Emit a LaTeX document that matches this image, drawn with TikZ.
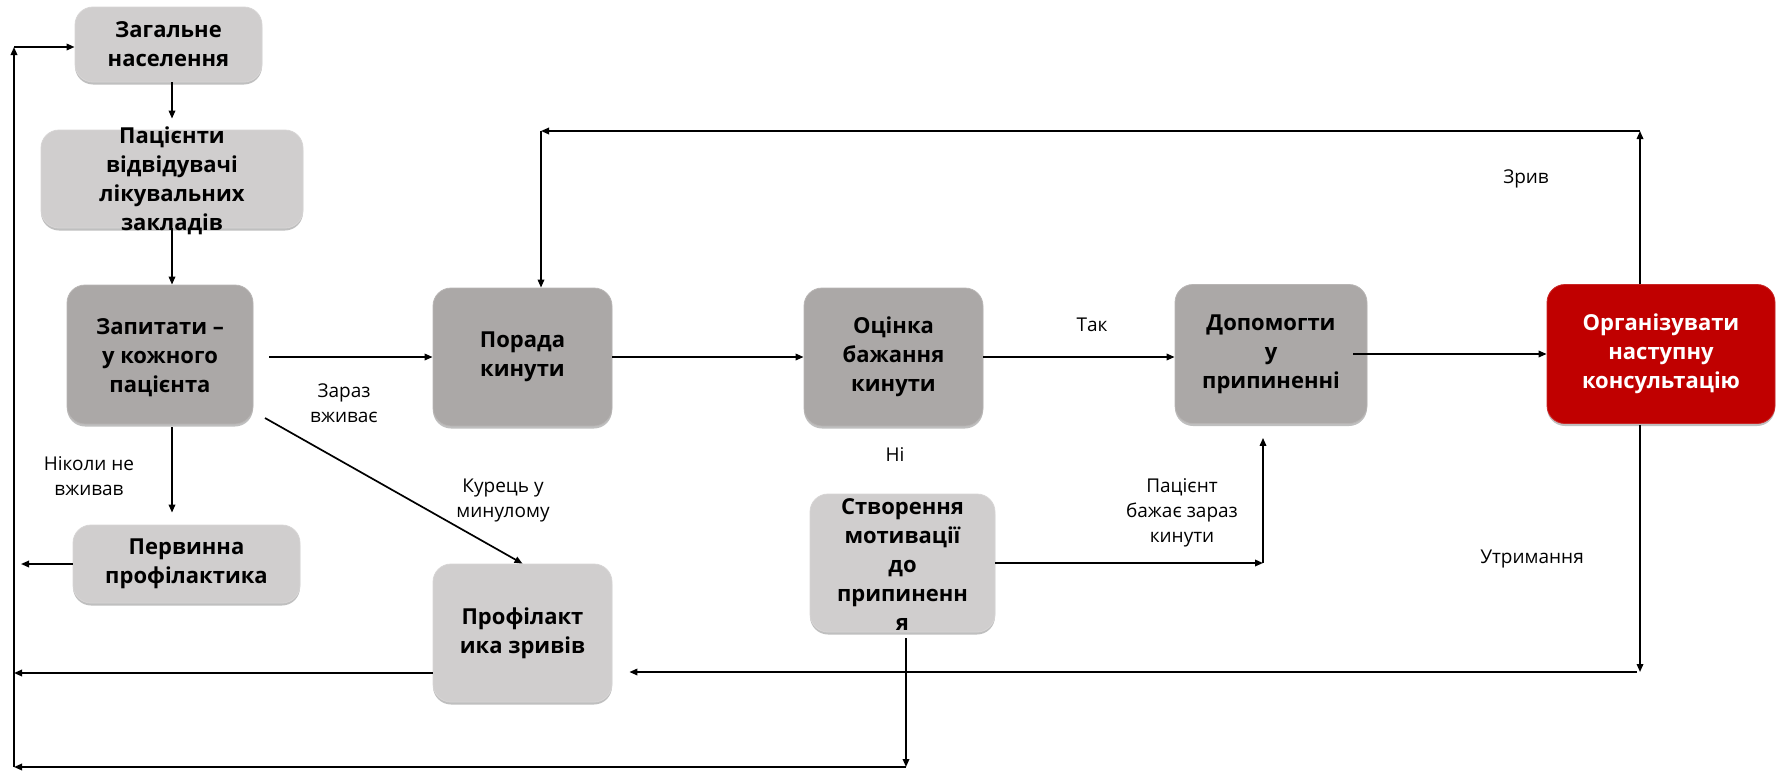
\documentclass[tikz,border=0pt]{standalone}
\usepackage{fontspec}
\setmainfont{Open Sans}
\usetikzlibrary{arrows.meta,shadows,calc}

\definecolor{boxlight}{RGB}{208,206,206}
\definecolor{boxdark}{RGB}{171,168,167}
\definecolor{boxred}{RGB}{192,0,0}

\tikzset{
  card/.style={rounded corners=18pt, draw=#1!85!white, line width=0.8pt, fill=#1,
    inner sep=0pt,
    drop shadow={shadow xshift=0pt, shadow yshift=-2.5pt, opacity=0.25, fill=black}},
  cardtext/.style={font=\fontsize{22}{29}\selectfont\bfseries, align=center, inner sep=0pt},
  note/.style={font=\fontsize{19}{25}\selectfont, align=center, inner sep=0pt},
  arr/.style={-{Triangle[length=8pt,width=6.5pt]}, line width=1.7pt, black},
}

\begin{document}
\begin{tikzpicture}[x=1pt, y=-1pt]
\useasboundingbox (0,0) rectangle (1784,771);

% boxes
\node[card=boxlight, minimum width=187pt, minimum height=75pt]  (zag)  at (168.5,44.5) {};
\node[card=boxlight, minimum width=262pt, minimum height=98pt]  (pac)  at (172,179) {};
\node[card=boxdark,  minimum width=186pt, minimum height=139pt] (zap)  at (160,354.5) {};
\node[card=boxlight, minimum width=227pt, minimum height=78pt]  (perv) at (186.5,564) {};
\node[card=boxdark,  minimum width=179pt, minimum height=138pt] (por)  at (522.5,357) {};
\node[card=boxlight, minimum width=179pt, minimum height=138pt] (prof) at (522.5,633) {};
\node[card=boxdark,  minimum width=179pt, minimum height=138pt] (oc)   at (893.5,357) {};
\node[card=boxlight, minimum width=185pt, minimum height=138pt] (stv)  at (902.5,563) {};
\node[card=boxdark,  minimum width=192pt, minimum height=139pt] (dop)  at (1271,354) {};
\node[card=boxred,   minimum width=228pt, minimum height=139pt] (org)  at (1661,354) {};

% box captions
\node[cardtext] (zagt)  at (zag.center)  {Загальне\\населення};
\node[cardtext] (pact)  at ([yshift=-2pt]pac.center)  {Пацієнти\\відвідувачі\\лікувальних\\закладів};
\node[cardtext] (zapt)  at ([yshift=-3pt]zap.center)  {Запитати –\\у кожного\\пацієнта};
\node[cardtext] (pervt) at (perv.center) {Первинна\\профілактика};
\node[cardtext] (port)  at (por.center)  {Порада\\кинути};
\node[cardtext] (proft) at (prof.center) {Профілакт\\ика зривів};
\node[cardtext] (oct)   at (oc.center)   {Оцінка\\бажання\\кинути};
\node[cardtext] (stvt)  at ([yshift=-2pt]stv.center)  {Створення\\мотивації\\до\\припиненн\\я};
\node[cardtext] (dopt)  at (dop.center)  {Допомогти\\у\\припиненні};
\node[cardtext, text=white] (orgt) at (org.center) {Організувати\\наступну\\консультацію};

% free ends of connectors
\coordinate (pervout) at (21,564);
\coordinate (pastfrom) at (265,418);
\coordinate (wish) at (1263,563);
\coordinate (sb) at (906,767);
\coordinate (lb) at (14,767);
\coordinate (lt) at (14,47);
\coordinate (tr) at (1640,131);
\coordinate (tl) at (541,131);
\coordinate (br) at (1640,672);

% connectors
\draw[arr, shorten >=11pt] (zag.south -| pac.north) -- (pac.north);
\draw[arr] (pac.south) -- (pac.south |- zap.north);
\draw[arr, shorten <=3pt, shorten >=12pt] (zap.south -| pac.south) -- (perv.north -| pac.south);
\draw[arr] (perv.west) -- (pervout);
\draw[arr, shorten <=16pt] (por.west -| zap.east) -- (por.west);
\draw[arr] (pastfrom) -- (prof.north);
\draw[arr] (por.east) -- (oc.west);
\draw[arr] (oc.east) -- (oc.east -| dop.west);
\draw[arr, shorten <=-14pt] (dop.east) -- (org.west);
\draw[arr] (stv.east) -- (wish);
\draw[arr, shorten >=14pt] (wish) -- (wish |- dop.south);
\draw[arr, shorten <=6pt] (stv.south -| sb) -- (sb);
\draw[arr] (sb) -- (lb);
\draw[arr] (lb) -- (lt);
\draw[arr] (lt) -- (lt -| zag.west);
\draw[arr] ([yshift=-40pt]prof.west) -- ([yshift=-40pt]prof.west -| lb);
\draw[arr] (org.north -| tr) -- (tr);
\draw[arr] (tr) -- (tl);
\draw[arr] (tl) -- (tl |- por.north);
\draw[arr, shorten <=1pt] (org.south -| br) -- (br);
\draw[arr, shorten >=17pt] ([xshift=-3pt]br) -- (prof.east |- br);

% connector labels
\node[note] (lnow)   at (344,403)  {Зараз\\вживає};
\node[note] (lpast)  at (503,500)  {Курець у\\минулому};
\node[note] (lnever) at (89,476)   {Ніколи не\\вживав};
\node[note] (lyes)   at (1092,325) {Так};
\node[note] (lno)    at (895,455)  {Ні};
\node[note] (lwant)  at (1182,513) {Пацієнт\\бажає зараз\\кинути};
\node[note] (lrel)   at (1526,179) {Зрив};
\node[note] (lkeep)  at (1532,559) {Утримання};
\end{tikzpicture}
\end{document}
